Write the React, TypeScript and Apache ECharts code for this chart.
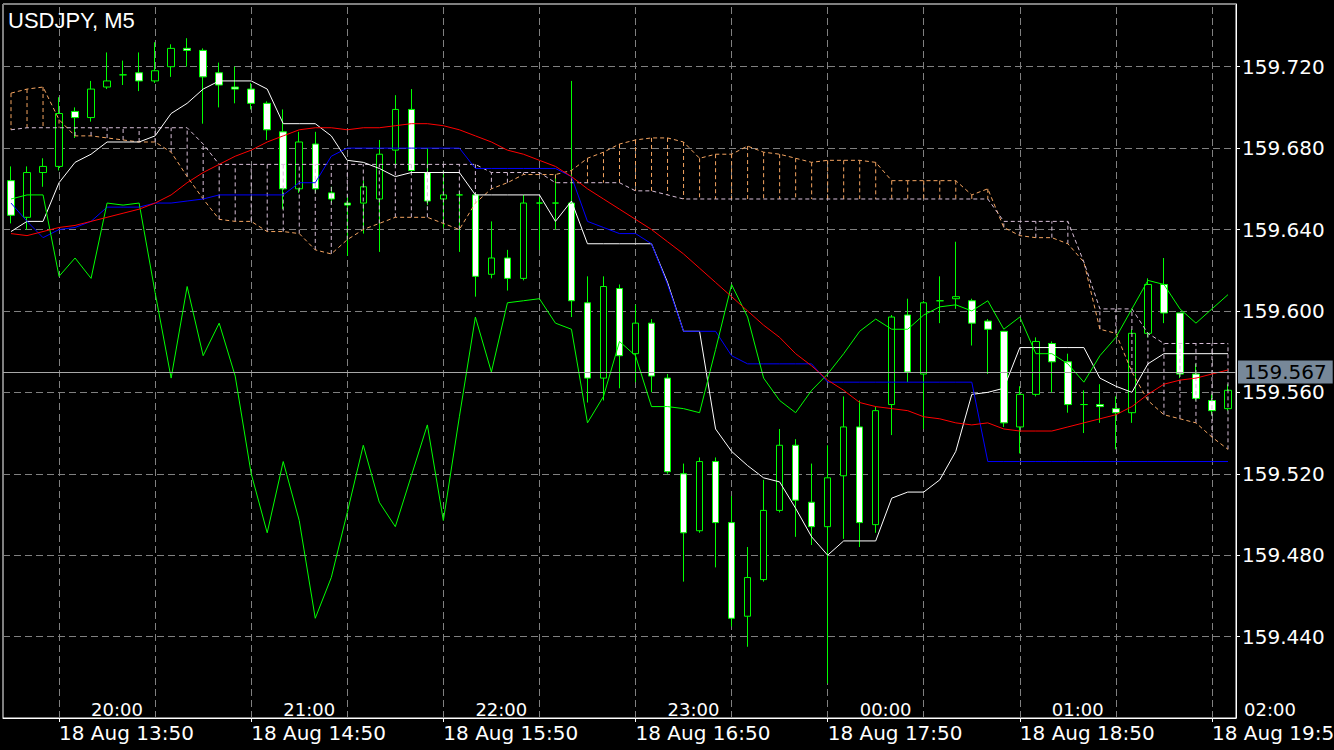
import React, { useEffect, useRef } from "react";
import * as echarts from "echarts";

const START_MIN = 13 * 60 + 35;
const BAR_COUNT = 77;
const categories: string[] = Array.from({ length: BAR_COUNT }, (_, i) => {
  const m = START_MIN + 5 * i;
  return `${String(Math.floor(m / 60) % 24).padStart(2, "0")}:${String(m % 60).padStart(2, "0")}`;
});

const opens = [
  159.664, 159.646, 159.668, 159.671, 159.698, 159.695, 159.710, 159.716, 159.717, 159.713,
  159.720, 159.729, 159.728, 159.717, 159.710, 159.709, 159.702, 159.688, 159.660, 159.682,
  159.658, 159.653, 159.653, 159.655, 159.679, 159.699, 159.668, 159.655, 159.657, 159.657,
  159.618, 159.626, 159.616, 159.653, 159.653, 159.653, 159.604, 159.567, 159.611, 159.579,
  159.594, 159.567, 159.520, 159.492, 159.526, 159.496, 159.450, 159.468, 159.502, 159.534,
  159.506, 159.494, 159.519, 159.543, 159.495, 159.554, 159.598, 159.569, 159.605, 159.606,
  159.605, 159.595, 159.590, 159.543, 159.559, 159.584, 159.575, 159.554, 159.554, 159.552,
  159.550, 159.589, 159.613, 159.599, 159.569, 159.556, 159.552,
];
const closes = [
  159.647, 159.668, 159.671, 159.697, 159.695, 159.709, 159.713, 159.716, 159.713, 159.718,
  159.729, 159.728, 159.715, 159.711, 159.709, 159.702, 159.689, 159.660, 159.683, 159.660,
  159.655, 159.652, 159.661, 159.677, 159.699, 159.669, 159.654, 159.657, 159.657, 159.617,
  159.626, 159.616, 159.653, 159.653, 159.653, 159.605, 159.567, 159.612, 159.578, 159.594,
  159.568, 159.521, 159.491, 159.526, 159.496, 159.449, 159.469, 159.502, 159.534, 159.507,
  159.494, 159.518, 159.543, 159.496, 159.551, 159.597, 159.570, 159.604, 159.605, 159.607,
  159.594, 159.591, 159.545, 159.559, 159.585, 159.575, 159.554, 159.554, 159.553, 159.550,
  159.589, 159.613, 159.599, 159.569, 159.557, 159.551, 159.561,
];
const highs = [
  159.671, 159.671, 159.675, 159.705, 159.700, 159.713, 159.727, 159.723, 159.727, 159.732,
  159.731, 159.734, 159.729, 159.722, 159.720, 159.712, 159.703, 159.699, 159.688, 159.688,
  159.661, 159.656, 159.664, 159.684, 159.706, 159.709, 159.680, 159.669, 159.658, 159.658,
  159.644, 159.630, 159.657, 159.656, 159.667, 159.713, 159.617, 159.617, 159.613, 159.603,
  159.596, 159.569, 159.525, 159.528, 159.528, 159.509, 159.484, 159.517, 159.542, 159.537,
  159.525, 159.534, 159.558, 159.556, 159.553, 159.598, 159.606, 159.605, 159.617, 159.634,
  159.606, 159.596, 159.590, 159.563, 159.587, 159.585, 159.579, 159.561, 159.564, 159.558,
  159.591, 159.616, 159.626, 159.599, 159.574, 159.559, 159.564,
];
const lows = [
  159.643, 159.640, 159.661, 159.669, 159.685, 159.693, 159.709, 159.711, 159.708, 159.712,
  159.715, 159.720, 159.692, 159.700, 159.702, 159.699, 159.684, 159.650, 159.658, 159.658,
  159.653, 159.627, 159.638, 159.629, 159.672, 159.668, 159.652, 159.641, 159.629, 159.607,
  159.616, 159.610, 159.615, 159.630, 159.640, 159.597, 159.555, 159.556, 159.562, 159.565,
  159.560, 159.520, 159.467, 159.491, 159.474, 159.445, 159.435, 159.467, 159.501, 159.489,
  159.485, 159.417, 159.488, 159.484, 159.491, 159.539, 159.565, 159.542, 159.594, 159.601,
  159.583, 159.569, 159.543, 159.530, 159.558, 159.560, 159.550, 159.540, 159.545, 159.532,
  159.545, 159.587, 159.594, 159.567, 159.556, 159.549, 159.551,
];

const tenkan = [
  159.639, 159.644, 159.644, 159.663, 159.673, 159.677, 159.683, 159.683, 159.683, 159.686,
  159.697, 159.702, 159.709, 159.713, 159.713, 159.713, 159.709, 159.692, 159.692, 159.692,
  159.686, 159.674, 159.673, 159.670, 159.666, 159.668, 159.668, 159.668, 159.668, 159.657,
  159.657, 159.657, 159.657, 159.657, 159.644, 159.654, 159.633, 159.633, 159.633, 159.633,
  159.633, 159.614, 159.590, 159.590, 159.542, 159.531, 159.524, 159.518, 159.516, 159.503,
  159.489, 159.480, 159.487, 159.487, 159.487, 159.508, 159.511, 159.511, 159.517, 159.531,
  159.559, 159.560, 159.562, 159.582, 159.582, 159.582, 159.582, 159.582, 159.567, 159.563,
  159.560, 159.574, 159.579, 159.579, 159.579, 159.579, 159.579,
];
const kijun = [
  159.653, 159.644, 159.636, 159.640, 159.641, 159.644, 159.651, 159.651, 159.651, 159.653,
  159.653, 159.654, 159.655, 159.657, 159.657, 159.657, 159.657, 159.657, 159.663, 159.663,
  159.676, 159.680, 159.680, 159.680, 159.680, 159.680, 159.680, 159.680, 159.680, 159.670,
  159.670, 159.670, 159.670, 159.670, 159.670, 159.666, 159.644, 159.641, 159.638, 159.638,
  159.633, 159.613, 159.590, 159.590, 159.590, 159.578, 159.574, 159.574, 159.574, 159.574,
  159.574, 159.565, 159.565, 159.565, 159.565, 159.565, 159.565, 159.565, 159.565, 159.565,
  159.565, 159.526, 159.526, 159.526, 159.526, 159.526, 159.526, 159.526, 159.526, 159.526,
  159.526, 159.526, 159.526, 159.526, 159.526, 159.526, 159.526,
];
const movingAvg = [
  159.638, 159.637, 159.639, 159.641, 159.642, 159.644, 159.646, 159.648, 159.650, 159.653,
  159.657, 159.663, 159.668, 159.672, 159.676, 159.679, 159.683, 159.686, 159.689, 159.690,
  159.690, 159.689, 159.690, 159.690, 159.691, 159.692, 159.692, 159.691, 159.689, 159.686,
  159.683, 159.679, 159.677, 159.674, 159.671, 159.666, 159.660, 159.655, 159.650, 159.645,
  159.640, 159.634, 159.628, 159.621, 159.614, 159.607, 159.600, 159.593, 159.587, 159.579,
  159.573, 159.566, 159.561, 159.555, 159.553, 159.552, 159.551, 159.548, 159.547, 159.545,
  159.544, 159.545, 159.542, 159.541, 159.541, 159.541, 159.543, 159.545, 159.547, 159.549,
  159.553, 159.559, 159.564, 159.566, 159.567, 159.569, 159.571,
];
const chikou = [
  159.655, 159.657, 159.657, 159.617, 159.626, 159.616, 159.653, 159.652, 159.653, 159.609,
  159.567, 159.612, 159.578, 159.594, 159.568, 159.520, 159.491, 159.526, 159.497, 159.449,
  159.469, 159.501, 159.534, 159.506, 159.494, 159.519, 159.544, 159.497, 159.548, 159.597,
  159.570, 159.604, 159.605, 159.606, 159.594, 159.591, 159.545, 159.558, 159.585, 159.578,
  159.553, 159.553, 159.552, 159.550, 159.581, 159.613, 159.597, 159.567, 159.556, 159.550,
  159.561, 159.569, 159.579, 159.590, 159.596, 159.591, 159.591, 159.598, 159.602, 159.603,
  159.600, 159.605, 159.591, 159.597, 159.579, 159.579, 159.574, 159.565, 159.578, 159.587,
  159.601, 159.615, 159.613, 159.601, 159.594, 159.601, 159.608,
];
const spanA = [
  159.707, 159.709, 159.710, 159.694, 159.686, 159.686, 159.685, 159.684, 159.683, 159.683,
  159.678, 159.666, 159.655, 159.645, 159.644, 159.644, 159.639, 159.639, 159.638, 159.630,
  159.628, 159.635, 159.640, 159.643, 159.646, 159.646, 159.646, 159.643, 159.640, 159.653,
  159.660, 159.663, 159.667, 159.667, 159.667, 159.669, 159.675, 159.678, 159.682, 159.684,
  159.685, 159.685, 159.683, 159.675, 159.677, 159.677, 159.681, 159.678, 159.677, 159.675,
  159.673, 159.674, 159.674, 159.674, 159.673, 159.664, 159.664, 159.664, 159.664, 159.664,
  159.657, 159.660, 159.641, 159.637, 159.636, 159.636, 159.633, 159.624, 159.591, 159.589,
  159.570, 159.556, 159.549, 159.547, 159.545, 159.538, 159.532,
];
const spanB = [
  159.689, 159.690, 159.690, 159.690, 159.690, 159.690, 159.690, 159.690, 159.690, 159.690,
  159.690, 159.690, 159.682, 159.672, 159.672, 159.672, 159.672, 159.672, 159.672, 159.672,
  159.672, 159.672, 159.672, 159.672, 159.672, 159.672, 159.672, 159.672, 159.672, 159.672,
  159.668, 159.668, 159.668, 159.668, 159.663, 159.663, 159.663, 159.663, 159.663, 159.659,
  159.659, 159.657, 159.655, 159.655, 159.655, 159.655, 159.655, 159.655, 159.655, 159.655,
  159.655, 159.655, 159.655, 159.655, 159.655, 159.655, 159.655, 159.655, 159.655, 159.655,
  159.655, 159.655, 159.644, 159.644, 159.644, 159.644, 159.644, 159.624, 159.601, 159.601,
  159.601, 159.589, 159.584, 159.584, 159.584, 159.584, 159.584,
];

const lowerLabelIdx = [3, 15, 27, 39, 51, 63, 75];
const lowerLabels = [
  "18 Aug 13:50", "18 Aug 14:50", "18 Aug 15:50", "18 Aug 16:50",
  "18 Aug 17:50", "18 Aug 18:50", "18 Aug 19:50",
];
const upperLabelIdx = [5, 17, 29, 41, 53, 65, 77];
const upperLabels = ["20:00", "21:00", "22:00", "23:00", "00:00", "01:00", "02:00"];
const vGridIdx = [3, 9, 15, 21, 27, 33, 39, 45, 51, 57, 63, 69, 75];
const lastPrice = 159.567;
const Y_MIN = 159.4;
const Y_MAX = 159.7508;
const Y_STEP = 0.04;
const TITLE = "USDJPY, M5";

const FONT = "DejaVu Sans";
const GRID_COLOR = "#808080";

export default function App() {
  const ref = useRef<HTMLDivElement>(null);

  useEffect(() => {
    if (!ref.current) return;
    const chart = echarts.init(ref.current, null, { renderer: "svg" });

    const option: any = {
      animation: false,
      backgroundColor: "#000000",
      grid: {
        left: 3, right: 98, top: 4, bottom: 32,
        containLabel: false,
        outerBoundsMode: "none",
        show: true, borderColor: "#ffffff", borderWidth: 1, backgroundColor: "transparent",
      },
      xAxis: {
        type: "category",
        data: categories,
        boundaryGap: true,
        axisLine: { show: true, lineStyle: { color: "#ffffff", width: 1 } },
        axisTick: {
          show: true, alignWithLabel: true, length: 4,
          interval: (i: number) => lowerLabelIdx.includes(i),
          lineStyle: { color: "#ffffff" },
        },
        axisLabel: {
          show: true,
          interval: (i: number) => lowerLabelIdx.includes(i),
          formatter: (_v: string, i: number) => {
            const k = lowerLabelIdx.indexOf(i);
            return k >= 0 ? lowerLabels[k] : "";
          },
          color: "#ffffff", fontFamily: FONT, fontSize: 20,
          align: "left", verticalAlign: "middle", margin: 15,
        },
        splitLine: { show: false },
      },
      yAxis: {
        type: "value", position: "right",
        min: Y_MIN, max: Y_MAX, interval: Y_STEP,
        axisLine: { show: true, lineStyle: { color: "#ffffff" } },
        axisTick: { show: true, length: 4, lineStyle: { color: "#ffffff" } },
        axisLabel: {
          color: "#ffffff", fontFamily: FONT, fontSize: 20, margin: 6,
          showMinLabel: false, showMaxLabel: false,
          formatter: (v: number) => v.toFixed(3),
        },
        splitLine: { show: true, lineStyle: { color: GRID_COLOR, type: [7, 4], width: 1 } },
      },
      series: [
        {
          name: "Candles", type: "candlestick", z: 2, barWidth: 7,
          data: opens.map((o, i) => [o, closes[i], lows[i], highs[i]]),
          itemStyle: {
            color: "#000000", color0: "#ffffff",
            borderColor: "#00ff00", borderColor0: "#00ff00", borderColorDoji: "#00ff00",
            borderWidth: 1,
          },
          markLine: {
            silent: true, z: 8, symbol: ["none", "none"],
            lineStyle: { color: "#a8a8a8", type: "solid", width: 1 },
            label: {
              show: true, position: "end", formatter: lastPrice.toFixed(3),
              color: "#000000", backgroundColor: "#778899",
              fontFamily: FONT, fontSize: 20, lineHeight: 21,
              padding: [1, 6, 1, 6], distance: 2,
            },
            data: [{ yAxis: lastPrice }],
          },
        },
        {
          name: "Cloud", type: "custom", z: 3,
          data: spanA.map((a, i) => [i, a, spanB[i]]),
          encode: { x: 0, y: [1, 2] },
          renderItem: (_params: any, api: any) => {
            const i = api.value(0);
            const a = api.value(1);
            const b = api.value(2);
            const p1 = api.coord([i, a]);
            const p2 = api.coord([i, b]);
            return {
              type: "line",
              shape: { x1: p1[0], y1: p1[1], x2: p2[0], y2: p2[1] },
              style: { stroke: a > b ? "#f4a460" : "#d8bfd8", lineWidth: 1, lineDash: [4, 3] },
            };
          },
          markLine: {
            silent: true, z: 1, symbol: ["none", "none"], label: { show: false },
            lineStyle: { color: GRID_COLOR, type: [7, 4], width: 1 },
            data: vGridIdx.map((i) => ({ xAxis: categories[i] })),
          },
        },
        { name: "Senkou A", type: "line", z: 3, data: spanA, showSymbol: false, symbol: "none",
          lineStyle: { color: "#f4a460", width: 1, type: [4, 3] } },
        { name: "Senkou B", type: "line", z: 3, data: spanB, showSymbol: false, symbol: "none",
          lineStyle: { color: "#d8bfd8", width: 1, type: [4, 3] } },
        { name: "Tenkan", type: "line", z: 4, data: tenkan, showSymbol: false, symbol: "none",
          lineStyle: { color: "#ffffff", width: 1 } },
        { name: "Kijun", type: "line", z: 4, data: kijun, showSymbol: false, symbol: "none",
          lineStyle: { color: "#0000ff", width: 1 } },
        { name: "Chikou", type: "line", z: 4, data: chikou, showSymbol: false, symbol: "none",
          lineStyle: { color: "#00ff00", width: 1 } },
        { name: "MA", type: "line", z: 4, data: movingAvg, showSymbol: false, symbol: "none",
          lineStyle: { color: "#ff0000", width: 1 } },
      ],
    };

    chart.setOption(option);

    const x0 = chart.convertToPixel({ xAxisIndex: 0 }, 0) as number;
    const x1 = chart.convertToPixel({ xAxisIndex: 0 }, 1) as number;
    const step = x1 - x0;

    const graphics: any[] = [
      {
        type: "text", x: 8, y: 20, z: 10,
        style: {
          text: TITLE, fill: "#ffffff", font: '22px "Liberation Sans"',
          textAlign: "left", textVerticalAlign: "middle", align: "left", verticalAlign: "middle",
        },
      },
      ...upperLabelIdx.map((idx, k) => ({
        type: "text", x: x0 + step * idx, y: 709, z: 10,
        style: {
          text: upperLabels[k], fill: "#ffffff", font: `18px "${FONT}"`,
          textAlign: "left", textVerticalAlign: "middle", align: "left", verticalAlign: "middle",
        },
      })),
    ];
    chart.setOption({ graphic: graphics });

    return () => {
      chart.dispose();
    };
  }, []);

  return (
    <div ref={ref} style={{ position: "fixed", left: 0, top: 0, width: 1334, height: 750 }} />
  );
}
